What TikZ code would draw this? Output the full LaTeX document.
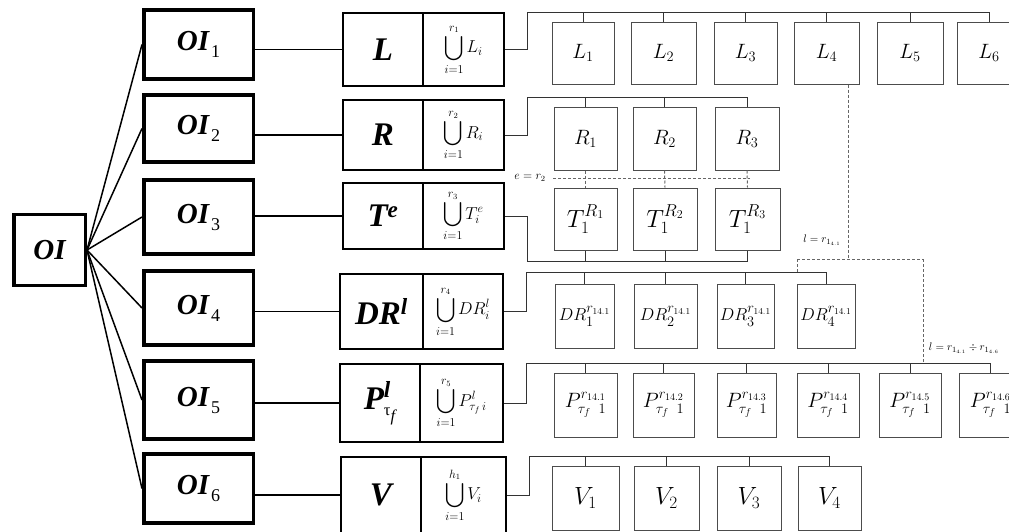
\documentclass[tikz,border=0pt]{standalone}
\usepackage{amsmath}
\usepackage{fontspec}
\setmainfont{Liberation Serif}
\newcommand{\oisub}[1]{OI\kern2pt\raisebox{-7pt}{\fontsize{18}{20}\selectfont\mdseries\upshape #1}}
\begin{document}
\begin{tikzpicture}[x=1pt,y=-1pt,
  oibox/.style={draw, line width=3.5pt, rectangle, inner sep=0pt, font=\fontsize{29}{30}\selectfont\bfseries\itshape},
  midbox/.style={draw, line width=2pt, rectangle, inner sep=0pt},
  bigbox/.style={midbox, font=\fontsize{33}{34}\selectfont\bfseries\itshape},
  unibox/.style={midbox, font=\fontsize{17}{19}\selectfont},
  leafbox/.style={draw=black!70, line width=1pt, rectangle, inner sep=0pt, minimum height=62},
  conn/.style={line width=1.5pt},
  bus/.style={draw=black!80, line width=1pt},
  dsh/.style={draw=black!60, line width=1pt, dash pattern=on 3pt off 2pt},
  lbl/.style={font=\fontsize{11}{12}\selectfont, inner sep=0pt}]
\useasboundingbox (0,0) rectangle (1009,531);
\clip (0,0) rectangle (1009,531);

% root and first level
\node[oibox, minimum width=71.5, minimum height=71] (OI) at (49.5,250) {OI};
\node[oibox, minimum width=109.5, minimum height=69] (OI1) at (198.5,44.5) {\oisub{1}};
\node[oibox, minimum width=109.5, minimum height=67] (OI2) at (198.5,128.5) {\oisub{2}};
\node[oibox, minimum width=109.5, minimum height=74] (OI3) at (198.5,217) {\oisub{3}};
\node[oibox, minimum width=109.5, minimum height=74] (OI4) at (198.5,308) {\oisub{4}};
\node[oibox, minimum width=109.5, minimum height=78] (OI5) at (198.5,400) {\oisub{5}};
\node[oibox, minimum width=109.5, minimum height=69] (OI6) at (198.5,488.5) {\oisub{6}};

% middle boxes
\node[bigbox, minimum width=80, minimum height=73] (ML1) at (383,49.5) {L};
\node[unibox, minimum width=81, minimum height=73] (MR1) at (463.5,49.5) {$\displaystyle\bigcup_{i=1}^{r_1} L_i$};
\node[bigbox, minimum width=80, minimum height=70] (ML2) at (383,135) {R};
\node[unibox, minimum width=81, minimum height=70] (MR2) at (463.5,135) {$\displaystyle\bigcup_{i=1}^{r_2} R_i$};
\node[bigbox, minimum width=80, minimum height=66] (ML3) at (383,216) {T\textsuperscript{e}};
\node[unibox, minimum width=81, minimum height=66] (MR3) at (463.5,216) {$\displaystyle\bigcup_{i=1}^{r_3} T_i^{e}$};
\node[bigbox, minimum width=83, minimum height=75] (ML4) at (381.5,311.5) {DR\textsuperscript{l}};
\node[unibox, minimum width=80, minimum height=75] (MR4) at (463,311.5) {$\displaystyle\bigcup_{i=1}^{r_4} DR_i^{l}$};
\node[bigbox, minimum width=80, minimum height=78] (ML5) at (380,403) {$\text{P}^{\text{l}}_{\scriptscriptstyle\text{\mdseries\upshape τ}_{\text{\mdseries f}}}$};
\node[unibox, minimum width=83, minimum height=78] (MR5) at (461.5,403) {$\displaystyle\bigcup_{i=1}^{r_5} P^{l}_{\tau_f\, i}$};
\node[bigbox, minimum width=80, minimum height=76] (ML6) at (381,495) {V};
\node[unibox, minimum width=85, minimum height=76] (MR6) at (463.5,495) {$\displaystyle\bigcup_{i=1}^{h_1} V_i$};

% L row
\begin{scope}[every node/.style={leafbox, font=\fontsize{20}{22}\selectfont}]
\node[minimum width=62] (L1) at (583,53) {$L_1$};
\node[minimum width=65] (L2) at (663.5,53) {$L_2$};
\node[minimum width=63] (L3) at (745.5,53) {$L_3$};
\node[minimum width=65] (L4) at (826.5,53) {$L_4$};
\node[minimum width=66] (L5) at (910,53) {$L_5$};
\node[minimum width=64] (L6) at (989,53) {$L_6$};
\end{scope}
% R row
\begin{scope}[every node/.style={leafbox, minimum height=63, font=\fontsize{22}{24}\selectfont}]
\node[minimum width=63] (R1) at (585.5,138.5) {$R_1$};
\node[minimum width=63] (R2) at (664.5,138.5) {$R_2$};
\node[minimum width=64] (R3) at (747,138.5) {$R_3$};
\end{scope}
% T row
\begin{scope}[every node/.style={leafbox, font=\fontsize{24}{26}\selectfont}]
\node[minimum width=63] (T1) at (585.5,219) {$T_1^{R_1}$};
\node[minimum width=64] (T2) at (665,219) {$T_1^{R_2}$};
\node[minimum width=65] (T3) at (747.5,219) {$T_1^{R_3}$};
\end{scope}
% DR row
\begin{scope}[every node/.style={leafbox, minimum height=64, font=\fontsize{19}{21}\selectfont}]
\node[minimum width=59] (D1) at (584.5,316) {$DR_1^{r_{14.1}}$};
\node[minimum width=63] (D2) at (665.5,316) {$DR_2^{r_{14.1}}$};
\node[minimum width=57] (D3) at (745.5,316) {$DR_3^{r_{14.1}}$};
\node[minimum width=58] (D4) at (826,316) {$DR_4^{r_{14.1}}$};
\end{scope}
% P row
\begin{scope}[every node/.style={leafbox, minimum height=64, font=\fontsize{20}{22}\selectfont}]
\node[minimum width=63] (P1) at (585.5,405) {$P^{r_{14.1}}_{\tau_f\;\;1}$};
\node[minimum width=61] (P2) at (663.5,405) {$P^{r_{14.2}}_{\tau_f\;\;1}$};
\node[minimum width=59] (P3) at (746.5,405) {$P^{r_{14.3}}_{\tau_f\;\;1}$};
\node[minimum width=62] (P4) at (828,405) {$P^{r_{14.4}}_{\tau_f\;\;1}$};
\node[minimum width=62] (P5) at (910,405) {$P^{r_{14.5}}_{\tau_f\;\;1}$};
\node[minimum width=63] (P6) at (990.5,405) {$P^{r_{14.6}}_{\tau_f\;\;1}$};
\end{scope}
% V row
\begin{scope}[every node/.style={leafbox, minimum height=64, font=\fontsize{25}{27}\selectfont}]
\node[minimum width=67] (V1) at (585.5,498) {$V_1$};
\node[minimum width=65] (V2) at (666.5,498) {$V_2$};
\node[minimum width=64] (V3) at (749,498) {$V_3$};
\node[minimum width=63] (V4) at (829.5,498) {$V_4$};
\end{scope}

% left fan
\foreach \i in {1,...,6} \draw[conn] (OI.east) -- (OI\i.west);
\foreach \i in {1,...,6} \draw[conn] (ML\i.west) -- (ML\i.west -| OI\i.east);

% buses
\coordinate (bL) at (527,12);
\coordinate (bR) at (527,97);
\coordinate (bT) at (527,261);
\coordinate (bD) at (526,272);
\coordinate (bP) at (526,363);
\coordinate (bV) at (529,456);
\draw[bus] (MR1.east) -| (bL) -- (L6.north |- bL);
\foreach \n in {L1,L2,L3,L4,L5,L6} \draw[bus] (\n.north) -- (\n.north |- bL);
\draw[bus] (MR2.east) -| (bR) -- (R3.north |- bR);
\foreach \n in {R1,R2,R3} \draw[bus] (\n.north) -- (\n.north |- bR);
\draw[bus] (MR3.east) -| (bT) -- (T3.south |- bT);
\foreach \n in {T1,T2,T3} \draw[bus] (\n.south) -- (\n.south |- bT);
\draw[bus] (MR4.east) -| (bD) -- (D4.north |- bD);
\foreach \n in {D1,D2,D3,D4} \draw[bus] (\n.north) -- (\n.north |- bD);
\draw[bus] (MR5.east) -| (bP) -- (P6.north |- bP);
\foreach \n in {P1,P2,P3,P4,P5,P6} \draw[bus] (\n.north) -- (\n.north |- bP);
\draw[bus] (MR6.east) -| (bV) -- (V4.north |- bV);
\foreach \n in {V1,V2,V3,V4} \draw[bus] (\n.north) -- (\n.north |- bV);

% dashed relations
\coordinate (e1) at (553,178);
\coordinate (e2) at (750,178);
\draw[dsh] (e1) -- (e2);
\draw[dsh] (R1.south) -- (T1.north);
\draw[dsh] (R2.south) -- (T2.north);
\draw[dsh] (R3.south) -- (T3.north);
\node[lbl, font=\fontsize{12}{13}\selectfont] (elab) at (530,178) {$e=r_2$};

\coordinate (dB) at (848,259);
\coordinate (dC) at (797,259);
\coordinate (dD) at (923,259);
\draw[dsh] (L4.south -| dB) -- (dB);
\draw[dsh] (dC) -- (dD);
\draw[dsh] (dC) -- (dC |- bD);
\draw[dsh] (dD) -- (dD |- bP);
\node[lbl] (l1) at (822,240) {$l=r_{1_{4.1}}$};
\node[lbl] (l2) at (964,348) {$l=r_{1_{4.1}}\div r_{1_{4.6}}$};
\end{tikzpicture}
\end{document}
